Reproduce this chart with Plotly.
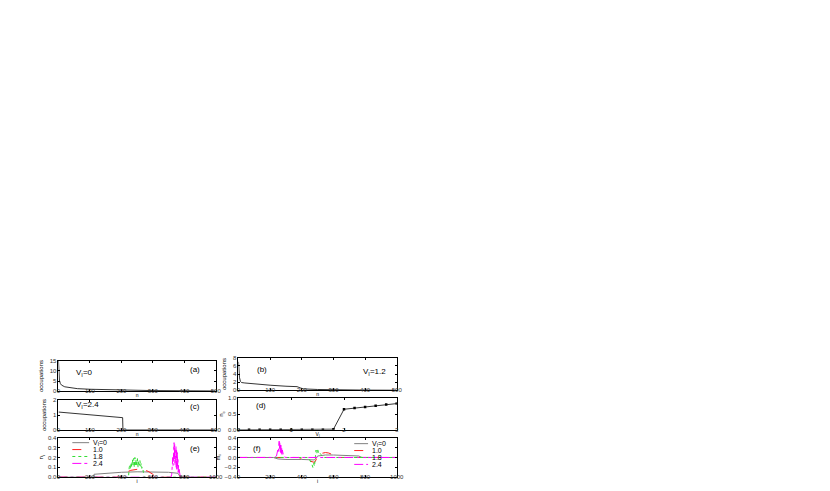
import plotly.graph_objects as go

W, H = 830, 491

# ---------------- data ----------------
# (a) V_I = 0 occupations
a_n = [0, 1, 3, 6, 10, 20, 40, 60, 100, 150, 200, 250, 300, 400, 500]
a_occ = [15, 9, 5.5, 3.8, 3.0, 2.2, 1.6, 1.3, 1.0, 0.8, 0.6, 0.45, 0.35, 0.25, 0.15]
# (b) V_I = 1.2 occupations
b_n = [0, 1, 3, 6, 10, 20, 50, 100, 150, 185, 195, 205, 250, 300, 400, 500]
b_occ = [7, 5, 3.2, 2.2, 1.9, 1.8, 1.55, 1.25, 1.0, 0.9, 0.6, 0.35, 0.2, 0.1, 0.05, 0.02]
# (c) V_I = 2.4 occupations
c_n = [0, 50, 100, 150, 200, 204, 205, 300, 400, 500]
c_occ = [1.2, 1.1, 1.0, 0.9, 0.82, 0.82, 0, 0, 0, 0]
# (d) order parameter vs V_I
d_v = [0, 0.2, 0.4, 0.6, 0.8, 1.0, 1.2, 1.4, 1.6, 1.8, 2.0, 2.2, 2.4, 2.6, 2.8, 3.0]
d_val = [0, 0, 0, 0, 0, 0, 0, 0, 0, 0.02, 0.65, 0.69, 0.72, 0.76, 0.80, 0.83]

# (e) site profiles
e0_i = [0, 225, 226, 300, 400, 500, 600, 700, 760, 775, 1000]
e0_y = [0, 0, 0.03, 0.04, 0.05, 0.055, 0.055, 0.05, 0.04, 0, 0]
e1_i = [0, 390, 400, 430, 460, 500, 540, 570, 600, 615, 620, 1000]
e1_y = [0, 0, 0.02, 0.05, 0.07, 0.08, 0.075, 0.06, 0.03, 0.01, 0, 0]
e18_i = [0, 445, 450, 454, 458, 462, 466, 470, 474, 478, 482, 486, 490, 494, 498,
         502, 506, 510, 514, 518, 522, 526, 530, 535, 540, 545, 1000]
e18_y = [0, 0, 0.1, 0.13, 0.08, 0.15, 0.1, 0.18, 0.12, 0.19, 0.1, 0.2, 0.12, 0.18,
         0.11, 0.19, 0.1, 0.16, 0.12, 0.17, 0.11, 0.14, 0.09, 0.1, 0.05, 0, 0]
e24_i = [0, 715, 720, 724, 727, 729, 731, 733, 735, 737, 739, 741, 743, 745, 747,
         749, 751, 753, 755, 757, 759, 761, 763, 765, 767, 770, 775, 1000]
e24_y = [0, 0, 0.03, 0.1, 0.2, 0.12, 0.3, 0.15, 0.35, 0.18, 0.33, 0.12, 0.3, 0.15,
         0.31, 0.1, 0.27, 0.08, 0.25, 0.1, 0.18, 0.05, 0.12, 0.04, 0.08, 0.02, 0, 0]

# (f) site profiles
f0_i = [0, 220, 250, 300, 400, 450, 480, 500, 550, 600, 700, 760, 780, 1000]
f0_y = [0, 0, -0.03, -0.04, -0.04, -0.05, -0.05, 0.03, 0.05, 0.05, 0.04, 0.03, 0, 0]
f1_i = [0, 380, 400, 430, 460, 480, 490, 500, 520, 550, 570, 600, 620, 1000]
f1_y = [0, 0, -0.02, -0.05, -0.08, -0.1, -0.05, 0.05, 0.08, 0.1, 0.09, 0.05, 0, 0]
f18_i = [0, 440, 450, 460, 465, 470, 475, 480, 485, 490, 495, 500, 505, 510, 520,
         530, 540, 1000]
f18_y = [0, 0, -0.05, -0.1, -0.15, -0.2, -0.12, -0.18, 0.05, 0.15, 0.08, 0.18,
         0.1, 0.12, 0.06, 0.02, 0, 0]
f24_i = [0, 230, 240, 245, 248, 251, 253, 255, 257, 259, 261, 263, 265, 267, 269,
         271, 273, 275, 277, 280, 285, 290, 300, 1000]
f24_y = [0, 0, 0.03, 0.08, 0.15, 0.1, 0.3, 0.12, 0.33, 0.18, 0.3, 0.12, 0.28, 0.1,
         0.25, 0.08, 0.2, 0.06, 0.15, 0.05, 0.03, 0.01, 0, 0]

legend_labels = ["V<sub>I</sub>=0", "1.0", "1.8", "2.4"]
series_colors = ["#808080", "#ff2020", "#33dd33", "#ff00ff"]
series_dash = ["solid", "dash", "dot", "dashdot"]

# ---------------- figure ----------------
FONT = "Liberation Sans"
NARROW = "Liberation Sans Narrow, Liberation Sans"
fig = go.Figure()

def add_line(x, y, ax, color="black", dash="solid", width=0.8, mode="lines"):
    fig.add_trace(go.Scatter(x=x, y=y, mode=mode, xaxis="x" + ax, yaxis="y" + ax,
                             line=dict(color=color, dash=dash, width=width),
                             marker=dict(symbol="square", size=2.5, color="black"),
                             showlegend=False, hoverinfo="skip"))

add_line(a_n, a_occ, "")
add_line(b_n, b_occ, "2")
add_line(c_n, c_occ, "3")
add_line(d_v, d_val, "4", mode="lines+markers")
for xs, ys, c, d in zip([e0_i, e1_i, e18_i, e24_i], [e0_y, e1_y, e18_y, e24_y],
                        series_colors, series_dash):
    add_line(xs, ys, "5", color=c, dash=d, width=1)
for xs, ys, c, d in zip([f0_i, f1_i, f18_i, f24_i], [f0_y, f1_y, f18_y, f24_y],
                        series_colors, series_dash):
    add_line(xs, ys, "6", color=c, dash=d, width=1)

def xd(px0, px1):
    return [px0 / W, px1 / W]

def yd(top, bot):
    return [1 - bot / H, 1 - top / H]

LEFT = xd(49, 208)
RIGHT = xd(231, 391)

def axis_common(is_x):
    return dict(showline=True, mirror="allticks", linecolor="black", linewidth=0.8,
                ticks="inside", ticklen=2, tickwidth=0.6, tickcolor="black",
                showgrid=False, zeroline=False,
                ticklabelstandoff=(-6 if is_x else 0),
                tickfont=dict(family=FONT, size=6, color="#333333"))

def title(t, st=0, size=5, fam=FONT):
    return dict(text=t, font=dict(family=fam, size=size, color="black"), standoff=st)

OCC = dict(text="occupations", font=dict(family=NARROW, size=6, color="black"), standoff=5)

lay = dict(width=W, height=H, margin=dict(l=0, r=0, t=0, b=0),
           paper_bgcolor="white", plot_bgcolor="white", showlegend=False)

lay["xaxis"] = dict(axis_common(True), domain=LEFT, anchor="y", range=[0, 500], dtick=100,
                    title=title("n"))
lay["yaxis"] = dict(axis_common(False), domain=yd(354, 385), anchor="x", range=[0, 15],
                    dtick=5, title=OCC)
lay["xaxis2"] = dict(axis_common(True), domain=RIGHT, anchor="y2", range=[0, 500], dtick=100,
                     title=title("n"))
lay["yaxis2"] = dict(axis_common(False), domain=yd(351, 384), anchor="x2", range=[0, 8],
                     dtick=2, title=OCC)
lay["xaxis3"] = dict(axis_common(True), domain=LEFT, anchor="y3", range=[0, 500], dtick=100,
                     title=title("n"))
lay["yaxis3"] = dict(axis_common(False), domain=yd(394, 424), anchor="x3", range=[0, 2],
                     dtick=1, title=OCC)
lay["xaxis4"] = dict(axis_common(True), domain=RIGHT, anchor="y4", range=[0, 3], dtick=1,
                     title=title("V<sub>I</sub>"))
lay["yaxis4"] = dict(axis_common(False), domain=yd(392, 424), anchor="x4", range=[0, 1],
                     dtick=0.5, tickformat=".1f", title=title("n<sub>c</sub>", 3, 6))
lay["xaxis5"] = dict(axis_common(True), domain=LEFT, anchor="y5", range=[0, 1000], dtick=200,
                     title=title("i"))
lay["yaxis5"] = dict(axis_common(False), domain=yd(432, 472), anchor="x5", range=[0, 0.4],
                     dtick=0.1, tickformat=".1f", title=title("n<sub>i</sub>", 3, 6))
lay["xaxis6"] = dict(axis_common(True), domain=RIGHT, anchor="y6", range=[0, 1000], dtick=200,
                     title=title("i"))
lay["yaxis6"] = dict(axis_common(False), domain=yd(432, 472), anchor="x6", range=[-0.4, 0.4],
                     dtick=0.2, tickformat=".1f", title=title("m<sub>i</sub>", 3, 6))
fig.update_layout(**lay)

def note(text, ax, x, y, size=8, xanchor="center"):
    fig.add_annotation(text=text, xref="x" + ax + " domain", yref="y" + ax + " domain",
                       x=x, y=y, showarrow=False, xanchor=xanchor, yanchor="middle",
                       font=dict(family=FONT, size=size, color="black"))

note("V<sub>I</sub>=0", "", 0.1, 0.6, xanchor="left")
note("(a)", "", 0.87, 0.72)
note("(b)", "2", 0.15, 0.64)
note("V<sub>I</sub>=1.2", "2", 0.86, 0.55)
note("V<sub>I</sub>=2.4", "3", 0.1, 0.85, xanchor="left")
note("(c)", "3", 0.87, 0.8)
note("(d)", "4", 0.14, 0.76)
note("(e)", "5", 0.87, 0.72)
note("(f)", "6", 0.12, 0.72)

# hand-drawn legends (panel e: upper left, panel f: upper right)
def legend_block(ax, x0, x1, xt, rows_px, top, bot):
    for lab, c, d, py in zip(legend_labels, series_colors, series_dash, rows_px):
        yy = (bot - py) / (bot - top)
        fig.add_shape(type="line", xref="x" + ax + " domain", yref="y" + ax + " domain",
                      x0=x0, x1=x1, y0=yy, y1=yy, line=dict(color=c, dash=d, width=1))
        fig.add_annotation(text=lab, xref="x" + ax + " domain", yref="y" + ax + " domain",
                           x=xt, y=yy, showarrow=False, xanchor="left", yanchor="middle",
                           font=dict(family=FONT, size=7, color="black"))

legend_block("5", (63 - 49) / 159, (80 - 49) / 159, (82 - 49) / 159,
             [437, 444, 451, 458], 432, 472)
legend_block("6", (348 - 231) / 160, (362 - 231) / 160, (364 - 231) / 160,
             [438, 445, 452, 459], 432, 472)

fig.write_html("out.html")
